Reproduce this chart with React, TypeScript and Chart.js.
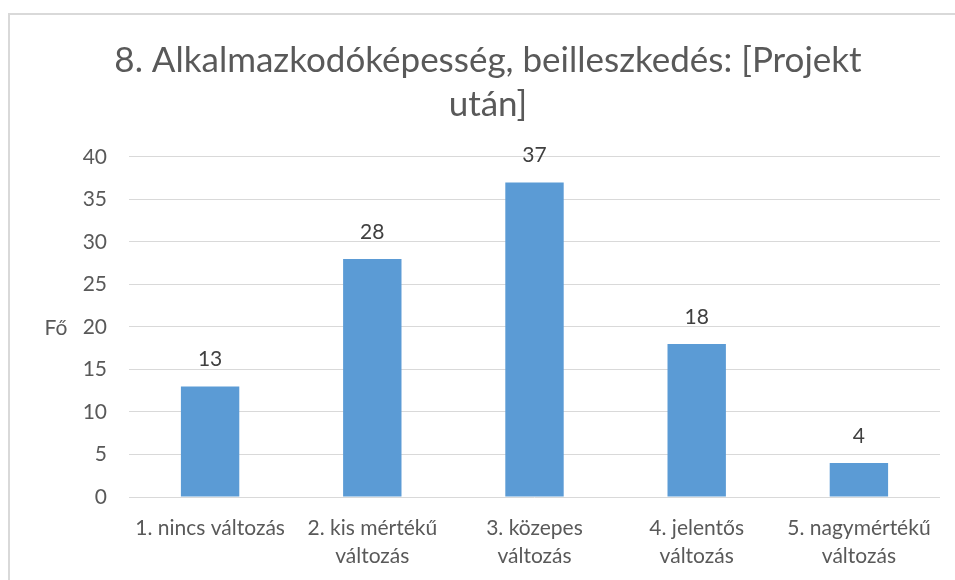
import React, { useEffect, useRef } from "react";
import { Chart, registerables } from "chart.js";

Chart.register(...registerables);

const TITLE_LINES = ["8. Alkalmazkodóképesség, beilleszkedés: [Projekt", "után]"];
const CATEGORIES: (string | string[])[] = [
  "1. nincs változás",
  ["2. kis mértékű", "változás"],
  ["3. közepes", "változás"],
  ["4. jelentős", "változás"],
  ["5. nagymértékű", "változás"],
];
const VALUES = [13, 28, 37, 18, 4];
const Y_TITLE = "Fő";
const Y_MIN = 0;
const Y_MAX = 40;
const Y_STEP = 5;

const FONT = "Lato, 'Open Sans', sans-serif";
const TEXT = "#595959";

const labelsPlugin = {
  id: "valueLabels",
  afterDatasetsDraw(chart: any) {
    const ctx = chart.ctx;
    const meta = chart.getDatasetMeta(0);
    ctx.save();
    ctx.font = `21px ${FONT}`;
    ctx.fillStyle = "#404040";
    ctx.textAlign = "center";
    ctx.textBaseline = "alphabetic";
    meta.data.forEach((bar: any, i: number) => {
      ctx.fillText(String(chart.data.datasets[0].data[i]), bar.x, bar.y - 20);
    });
    ctx.font = `21px ${FONT}`;
    ctx.fillStyle = TEXT;
    ctx.textBaseline = "middle";
    const a = chart.chartArea;
    ctx.fillText(Y_TITLE, 46, (a.top + a.bottom) / 2 + 1);
    ctx.restore();
  },
};

export default function App() {
  const ref = useRef<HTMLCanvasElement>(null);
  useEffect(() => {
    if (!ref.current) return;
    const chart = new Chart(ref.current, {
      type: "bar",
      data: {
        labels: CATEGORIES,
        datasets: [
          {
            data: VALUES,
            backgroundColor: "#5B9BD5",
            barPercentage: 0.36,
            categoryPercentage: 1,
          },
        ],
      },
      options: {
        animation: false,
        responsive: false,
        maintainAspectRatio: false,
        layout: { padding: { left: 26, right: 15, top: 0, bottom: 0 } },
        plugins: {
          legend: { display: false },
          tooltip: { enabled: false },
          title: {
            display: true,
            text: TITLE_LINES,
            color: TEXT,
            font: { family: FONT, size: 35, weight: "normal", lineHeight: 1.27 },
            padding: { top: 23, bottom: 30 },
          },
        },
        scales: {
          x: {
            grid: { display: false, drawTicks: false },
            border: { display: false },
            ticks: {
              color: TEXT,
              font: { family: FONT, size: 21, lineHeight: 1.33 },
              padding: 17,
              maxRotation: 0,
              autoSkip: false,
            },
            afterFit: (s: any) => {
              s.height = 83;
            },
          },
          y: {
            min: Y_MIN,
            max: Y_MAX,
            ticks: {
              stepSize: Y_STEP,
              color: TEXT,
              font: { family: FONT, size: 21 },
              padding: 22,
            },
            grid: { color: "#d9d9d9", drawTicks: false, lineWidth: 1 },
            border: { display: false },
            afterFit: (s: any) => {
              s.width = 93;
            },
          },
        },
      },
      plugins: [labelsPlugin],
    });
    return () => chart.destroy();
  }, []);
  return (
    <div
      style={{
        position: "fixed",
        left: 8,
        top: 13,
        right: 0,
        bottom: 0,
        borderTop: "2px solid #d9d9d9",
        borderLeft: "2px solid #d9d9d9",
        background: "#fff",
        overflow: "hidden",
      }}
    >
      <canvas ref={ref} width={945} height={565} style={{ display: "block" }} />
    </div>
  );
}
